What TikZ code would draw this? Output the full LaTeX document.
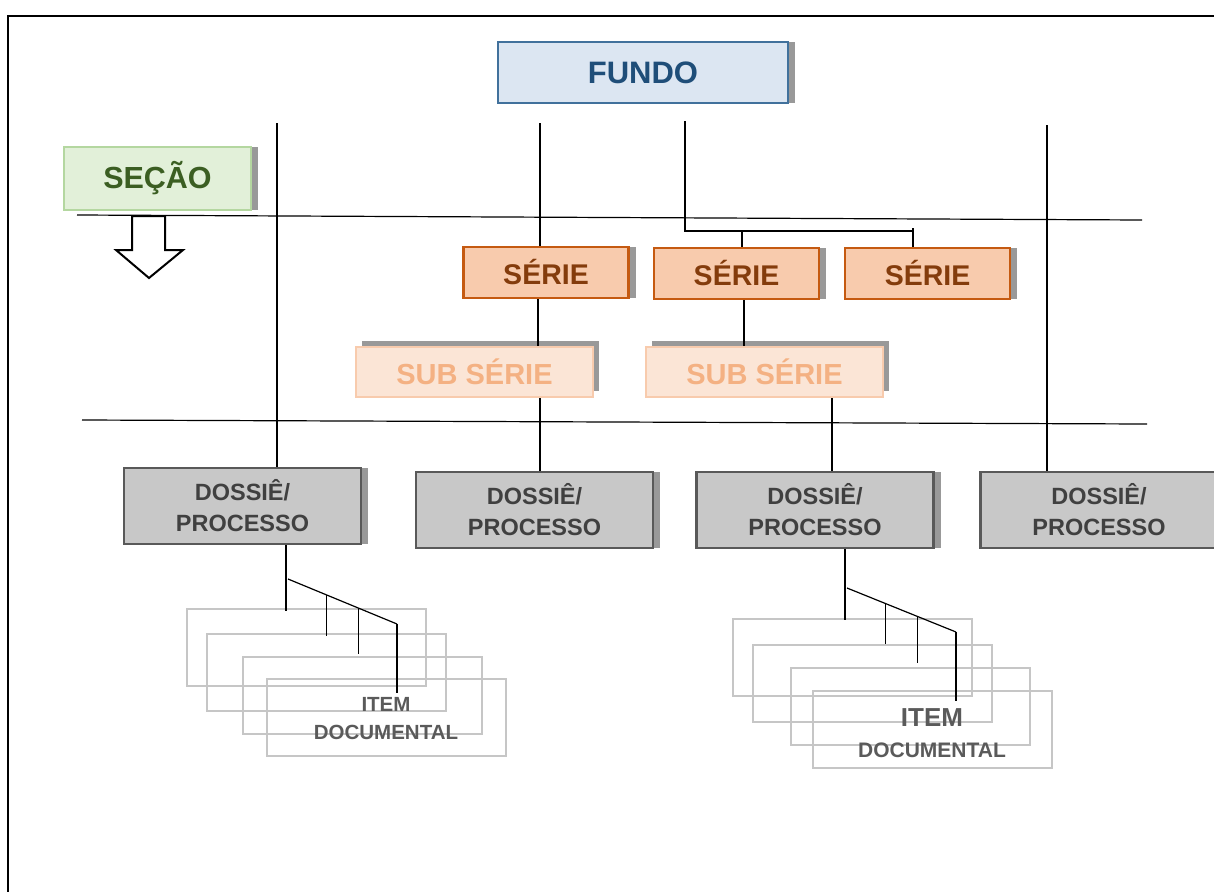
\documentclass[tikz,border=0pt]{standalone}
\usepackage{fontspec}
\setmainfont{Liberation Sans}
\usetikzlibrary{shadows, calc}

\definecolor{fundoFill}{HTML}{DCE6F2}
\definecolor{fundoLine}{HTML}{41719C}
\definecolor{fundoText}{HTML}{1F4E79}
\definecolor{secaoFill}{HTML}{E2F0D9}
\definecolor{secaoLine}{HTML}{B4D7A0}
\definecolor{secaoText}{HTML}{3B5E22}
\definecolor{serieFill}{HTML}{F8CBAD}
\definecolor{serieLine}{HTML}{C55A11}
\definecolor{serieText}{HTML}{843C0C}
\definecolor{subFill}{HTML}{FBE5D6}
\definecolor{subLine}{HTML}{F8CBAD}
\definecolor{subText}{HTML}{F4B183}
\definecolor{dossieFill}{HTML}{C8C8C8}
\definecolor{dossieLine}{HTML}{595959}
\definecolor{dossieText}{HTML}{404040}
\definecolor{itemLine}{HTML}{C6C6C6}
\definecolor{itemText}{HTML}{5A5A5A}

\begin{document}
\begin{tikzpicture}[x=1pt,y=-1pt,line width=1.2pt,
    box/.style={draw,line width=2pt,inner sep=0pt,align=center},
    rshadow/.style={drop shadow={shadow xshift=7pt,shadow yshift=0pt,fill=black!40,opacity=1}},
    ushadow/.style={drop shadow={shadow xshift=6pt,shadow yshift=6pt,fill=black!40,opacity=1}},
    fundo/.style={box,rshadow,fill=fundoFill,draw=fundoLine,text=fundoText,
        minimum width=290pt,minimum height=61pt,font=\fontsize{31}{37}\selectfont\bfseries},
    secao/.style={box,rshadow,fill=secaoFill,draw=secaoLine,text=secaoText,
        minimum width=187pt,minimum height=63pt,font=\fontsize{30.5}{36}\selectfont\bfseries},
    serie/.style={box,rshadow,line width=2.5pt,fill=serieFill,draw=serieLine,text=serieText,
        minimum width=165pt,minimum height=51pt,font=\fontsize{28.5}{34}\selectfont\bfseries},
    subserie/.style={box,ushadow,fill=subFill,draw=subLine,text=subText,
        minimum width=237pt,minimum height=50pt,font=\fontsize{29}{34}\selectfont\bfseries},
    dossie/.style={box,rshadow,line width=2.5pt,fill=dossieFill,draw=dossieLine,text=dossieText,
        minimum width=237pt,minimum height=76pt,font=\fontsize{23.5}{31}\selectfont\bfseries},
    itembox/.style={draw=itemLine,line width=2.6pt},
    itemtxt/.style={inner sep=0pt,text=itemText}]
\useasboundingbox (0,0) rectangle (1214,891);

% frame and level lines
\draw[line width=2.5pt] (8,900) -- (8,16) -- (1230,16);
\draw (77,215) -- (1142,220);
\draw (82,420) -- (1147,424);
\draw[line width=2pt,fill=white] (132,216) -- (165,216) -- (165,250) -- (183,250)
    -- (149,278) -- (116,250) -- (132,250) -- cycle;

% boxes
\node[fundo] (fundo) at (643,72.5) {FUNDO};
\node[secao] (secao) at (157.5,178.5) {SEÇÃO};
\node[serie] (s1) at (546,272.5) {SÉRIE};
\node[serie] (s2) at (736.5,273.5) {SÉRIE};
\node[serie] (s3) at (927.5,273.5) {SÉRIE};
\node[subserie] (u1) at (474.5,372) {SUB SÉRIE};
\node[subserie] (u2) at (764.5,372) {SUB SÉRIE};
\node[dossie] (d1) at (242.5,506) {DOSSIÊ/\\PROCESSO};
\node[dossie] (d2) at (534.5,510) {DOSSIÊ/\\PROCESSO};
\node[dossie] (d3) at (815,510) {DOSSIÊ/\\PROCESSO};
\node[dossie] (d4) at (1099,510) {DOSSIÊ/\\PROCESSO};

% documentary items
\foreach \x/\y in {187/609, 207/634, 243/657, 267/679, 733/619, 753/645, 791/668, 813/691}
    \draw[itembox] (\x,\y) rectangle ++(239,77);
\node[itemtxt,font=\fontsize{20.5}{24}\selectfont\bfseries] (i1) at (386,704) {ITEM};
\node[itemtxt,font=\fontsize{20.5}{24}\selectfont\bfseries] (i2) at (386,732) {DOCUMENTAL};
\node[itemtxt,font=\fontsize{26}{30}\selectfont\bfseries] (i3) at (932,718) {ITEM};
\node[itemtxt,font=\fontsize{21}{25}\selectfont\bfseries] (i4) at (932,750) {DOCUMENTAL};

% connectors
\coordinate (t1) at (277,123);
\coordinate (t2) at (540,123);
\coordinate (t3) at (685,121);
\coordinate (t4) at (1047,125);
\coordinate (j2) at (742,231);
\coordinate (j3) at (913,231);
\coordinate (k1) at (538,0);
\coordinate (k2) at (744,0);
\coordinate (k4) at (832,0);
\draw (t1) -- (t1 |- d1.north);
\draw (t2) -- (t2 |- s1.north);
\draw (t3) |- (j3);
\draw (j2) -- (j2 |- s2.north);
\draw ([yshift=3pt]j3) -- (j3 |- s3.north);
\draw (t4) -- (t4 |- d4.north);
\draw (k1 |- s1.south) -- (k1 |- u1.north);
\draw (k2 |- s2.south) -- (k2 |- u2.north);
\draw (t2 |- u1.south) -- (t2 |- d2.north);
\draw (k4 |- u2.south) -- (k4 |- d3.north);

% item branches
\coordinate (ie) at (286,611);
\coordinate (ia) at (288,579);
\coordinate (ib) at (397,624);
\coordinate (je) at (845,620);
\coordinate (ja) at (847,588);
\coordinate (jb) at (956,632);
\draw (ie |- d1.south) -- (ie);
\draw (je |- d3.south) -- (je);
\draw (ia) -- (ib);
\draw (ja) -- (jb);
\foreach \t/\l in {0.35/41, 0.65/46, 1/69} {
    \draw ($(ia)!\t!(ib)$) -- ++(0,\l);
    \draw ($(ja)!\t!(jb)$) -- ++(0,\l);
}
\end{tikzpicture}
\end{document}
